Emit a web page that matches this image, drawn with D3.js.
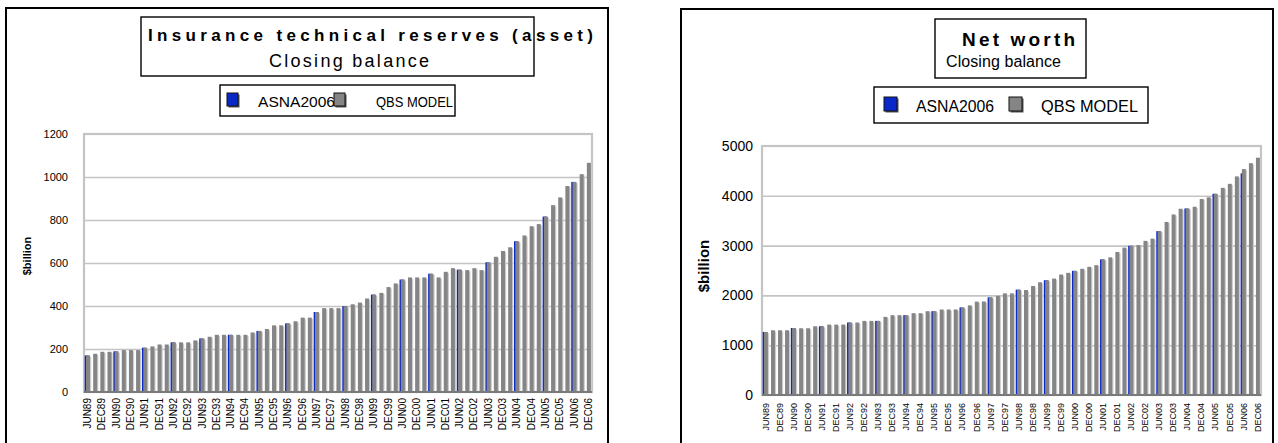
<!DOCTYPE html>
<html>
<head>
<meta charset="utf-8">
<script src="https://cdn.jsdelivr.net/npm/d3@7"></script>
<style>
  body { margin: 0; background: #fff; }
  svg { display: block; font-family: "Liberation Sans", Arial, sans-serif; }
</style>
</head>
<body>
<svg id="chart" width="1278" height="443"></svg>
<script>
// Quarterly observation dates (closing balances)
const quarters = [
  "JUN89","SEP89","DEC89",
  "MAR90","JUN90","SEP90","DEC90","MAR91","JUN91","SEP91","DEC91",
  "MAR92","JUN92","SEP92","DEC92","MAR93","JUN93","SEP93","DEC93",
  "MAR94","JUN94","SEP94","DEC94","MAR95","JUN95","SEP95","DEC95",
  "MAR96","JUN96","SEP96","DEC96","MAR97","JUN97","SEP97","DEC97",
  "MAR98","JUN98","SEP98","DEC98","MAR99","JUN99","SEP99","DEC99",
  "MAR00","JUN00","SEP00","DEC00","MAR01","JUN01","SEP01","DEC01",
  "MAR02","JUN02","SEP02","DEC02","MAR03","JUN03","SEP03","DEC03",
  "MAR04","JUN04","SEP04","DEC04","MAR05","JUN05","SEP05","DEC05",
  "MAR06","JUN06","SEP06","DEC06"
];

// Labelled ticks on the category axis
const tickLabels = [
  "JUN89","DEC89","JUN90","DEC90","JUN91","DEC91","JUN92","DEC92",
  "JUN93","DEC93","JUN94","DEC94","JUN95","DEC95","JUN96","DEC96",
  "JUN97","DEC97","JUN98","DEC98","JUN99","DEC99","JUN00","DEC00",
  "JUN01","DEC01","JUN02","DEC02","JUN03","DEC03","JUN04","DEC04",
  "JUN05","DEC05","JUN06","DEC06"
];

// Annual (June) dates of the ASNA2006 benchmark
const asnaDates = [
  "JUN89","JUN90","JUN91","JUN92","JUN93","JUN94","JUN95","JUN96","JUN97",
  "JUN98","JUN99","JUN00","JUN01","JUN02","JUN03","JUN04","JUN05","JUN06"
];

// Insurance technical reserves (asset), $billion
const insuranceQbs = [
  170,178,187,187,189,195,195,195,206,212,221,221,231,231,231,240,249,257,
  266,266,266,266,266,277,284,293,310,310,319,329,346,346,372,390,390,390,
  399,408,416,435,453,461,488,505,523,533,533,533,550,533,559,576,569,567,
  576,567,603,629,656,673,701,728,771,781,816,869,905,958,977,1013,1066
];
const insuranceAsna = [
  170,189,206,231,249,266,284,319,372,399,453,523,550,569,603,701,816,977
];

// Net worth, $billion
const netWorthQbs = [
  1266,1300,1300,1300,1345,1340,1340,1380,1380,1414,1414,1414,1455,1455,
  1488,1488,1488,1569,1603,1603,1603,1643,1643,1683,1683,1717,1717,1717,
  1758,1800,1875,1878,1960,1993,2041,2041,2115,2108,2189,2264,2304,2338,
  2419,2453,2493,2534,2574,2608,2723,2764,2872,2960,3000,3010,3095,3140,
  3290,3475,3625,3740,3745,3780,3935,3970,4040,4160,4240,4390,4537,4655,4765
];
const netWorthAsna = [
  1266,1345,1380,1455,1488,1603,1683,1758,1960,2115,2304,2493,2723,2995,
  3290,3745,4040,4450
];

const seriesNames = ["ASNA2006", "QBS MODEL"];
const BLUE = "#0a28c8", GRAY = "#858585", GRID = "#c4c4c4";

const svg = d3.select("#chart");

function drawPanel(cfg) {
  const g = svg.append("g");

  // outer frame
  g.append("rect")
    .attr("x", cfg.frame[0]).attr("y", cfg.frame[1])
    .attr("width", cfg.frame[2]).attr("height", cfg.frame[3])
    .attr("fill", "none").attr("stroke", "#000").attr("stroke-width", 2);

  const x = d3.scaleBand().domain(quarters).range([cfg.plot.l, cfg.plot.r]).padding(0);
  const y = d3.scaleLinear().domain([0, cfg.yMax]).range([cfg.plot.b, cfg.plot.t]);
  const bw = x.bandwidth();

  // horizontal gridlines
  const grid = g.append("g").attr("transform", `translate(${cfg.plot.l},0)`)
    .call(d3.axisLeft(y).tickValues(d3.range(cfg.yStep, cfg.yMax, cfg.yStep))
      .tickSize(-(cfg.plot.r - cfg.plot.l)).tickFormat(""));
  grid.select(".domain").remove();
  grid.selectAll("line").attr("stroke", GRID).attr("stroke-width", 1.6);

  // plot area border
  g.append("rect")
    .attr("x", cfg.plot.l).attr("y", cfg.plot.t)
    .attr("width", cfg.plot.r - cfg.plot.l).attr("height", cfg.plot.b - cfg.plot.t)
    .attr("fill", "none").attr("stroke", GRID).attr("stroke-width", 2.2);

  // y tick labels
  const ya = g.append("g").attr("transform", `translate(${cfg.tickRight},0)`)
    .call(d3.axisLeft(y).tickValues(d3.range(0, cfg.yMax + 1, cfg.yStep))
      .tickSize(0).tickPadding(0).tickFormat(d3.format("d")));
  ya.select(".domain").remove();
  ya.selectAll("text").attr("font-size", cfg.tickSize).attr("fill", "#000")
    .attr("font-family", "Liberation Sans, Arial, sans-serif");

  // bars: ASNA2006 behind, shadow, then QBS model in front
  const bars = g.append("g");
  const asnaVals = cfg.asna;
  bars.selectAll(".asna").data(asnaDates).join("rect")
    .attr("x", d => x(d) + bw * 0.10)
    .attr("width", bw * 0.56)
    .attr("y", (d, i) => y(asnaVals[i]))
    .attr("height", (d, i) => y(0) - y(asnaVals[i]))
    .attr("fill", BLUE);
  bars.selectAll(".shadow").data(quarters).join("rect")
    .attr("x", d => x(d) + bw * 0.28 + 1.2)
    .attr("width", bw * 0.56)
    .attr("y", (d, i) => y(cfg.qbs[i]) + 1.2)
    .attr("height", (d, i) => Math.max(0, y(0) - y(cfg.qbs[i]) - 1.2))
    .attr("fill", "#cdcdcd");
  bars.selectAll(".qbs").data(quarters).join("rect")
    .attr("x", d => x(d) + bw * 0.28)
    .attr("width", bw * 0.56)
    .attr("y", (d, i) => y(cfg.qbs[i]))
    .attr("height", (d, i) => y(0) - y(cfg.qbs[i]))
    .attr("fill", GRAY);

  // category axis with rotated labels
  const xa = g.append("g").attr("transform", `translate(0,${cfg.plot.b})`)
    .call(d3.axisBottom(x).tickValues(tickLabels).tickSize(0));
  xa.select(".domain").attr("stroke", "#7a7a7a").attr("stroke-width", 2)
    .attr("d", `M${cfg.plot.l},0H${cfg.plot.r}`);
  xa.selectAll("text")
    .attr("transform", "rotate(-90)")
    .attr("text-anchor", "end")
    .attr("x", -cfg.labelGap).attr("y", 0).attr("dy", "0.35em")
    .attr("font-size", cfg.labelSize).attr("fill", "#000")
    .attr("font-family", "Liberation Sans, Arial, sans-serif");

  // y axis title
  g.append("text")
    .attr("transform", `translate(${cfg.yTitle[0]},${cfg.yTitle[1]}) rotate(-90)`)
    .attr("text-anchor", "middle").attr("dy", "0.35em")
    .attr("font-size", cfg.yTitle[2]).attr("font-weight", "bold")
    .text("$billion");

  // title box
  g.append("rect")
    .attr("x", cfg.titleBox[0]).attr("y", cfg.titleBox[1])
    .attr("width", cfg.titleBox[2]).attr("height", cfg.titleBox[3])
    .attr("fill", "#fff").attr("stroke", "#000").attr("stroke-width", 1.4);
  g.append("text")
    .attr("x", cfg.title.x).attr("y", cfg.title.y)
    .attr("font-size", cfg.title.size).attr("font-weight", "bold")
    .attr("textLength", cfg.title.len).attr("lengthAdjust", "spacing")
    .text(cfg.title.text);
  g.append("text")
    .attr("x", cfg.sub.x).attr("y", cfg.sub.y)
    .attr("font-size", cfg.sub.size)
    .attr("textLength", cfg.sub.len).attr("lengthAdjust", "spacing")
    .text("Closing balance");

  // legend
  const lg = cfg.legend;
  g.append("rect")
    .attr("x", lg.box[0]).attr("y", lg.box[1]).attr("width", lg.box[2]).attr("height", lg.box[3])
    .attr("fill", "#fff").attr("stroke", "#000").attr("stroke-width", 1.4);
  const colors = [BLUE, GRAY];
  lg.items.forEach((it, i) => {
    g.append("rect")
      .attr("x", it.sx + 1.5).attr("y", lg.sy + 1.5).attr("width", lg.sw).attr("height", lg.sh)
      .attr("fill", "#555");
    g.append("rect")
      .attr("x", it.sx).attr("y", lg.sy).attr("width", lg.sw).attr("height", lg.sh)
      .attr("fill", colors[i]).attr("stroke", "#111").attr("stroke-width", 1);
    g.append("text")
      .attr("x", it.tx).attr("y", lg.ty)
      .attr("font-size", lg.size)
      .attr("textLength", it.len).attr("lengthAdjust", "spacingAndGlyphs")
      .text(seriesNames[i]);
  });
}

drawPanel({
  frame: [6, 8, 602, 445],
  plot: { l: 84, r: 592, t: 134, b: 392 },
  yMax: 1200, yStep: 200, tickRight: 68, tickSize: 11,
  qbs: insuranceQbs, asna: insuranceAsna,
  labelGap: 6, labelSize: 10,
  yTitle: [27.5, 256, 11],
  titleBox: [141, 17, 393, 59],
  title: { text: "Insurance technical reserves (asset)", x: 148, y: 41, size: 17, len: 445 },
  sub: { x: 269, y: 67, size: 18, len: 160 },
  legend: {
    box: [220, 85, 235, 31], sy: 93, sw: 11, sh: 13, ty: 107, size: 15,
    items: [{ sx: 227, tx: 258, len: 77 }, { sx: 334, tx: 376, len: 77 }]
  }
});

drawPanel({
  frame: [681, 9, 592, 445],
  plot: { l: 762, r: 1261, t: 146, b: 395 },
  yMax: 5000, yStep: 1000, tickRight: 753, tickSize: 14,
  qbs: netWorthQbs, asna: netWorthAsna,
  labelGap: 8, labelSize: 9,
  yTitle: [703.5, 266, 15],
  titleBox: [935, 19, 151, 59],
  title: { text: "Net worth", x: 962, y: 46, size: 19, len: 113 },
  sub: { x: 946, y: 67, size: 16, len: 115 },
  legend: {
    box: [874, 87, 274, 36], sy: 97, sw: 13, sh: 14, ty: 112, size: 16,
    items: [{ sx: 884, tx: 916, len: 78 }, { sx: 1009, tx: 1041, len: 97 }]
  }
});
</script>
</body>
</html>
